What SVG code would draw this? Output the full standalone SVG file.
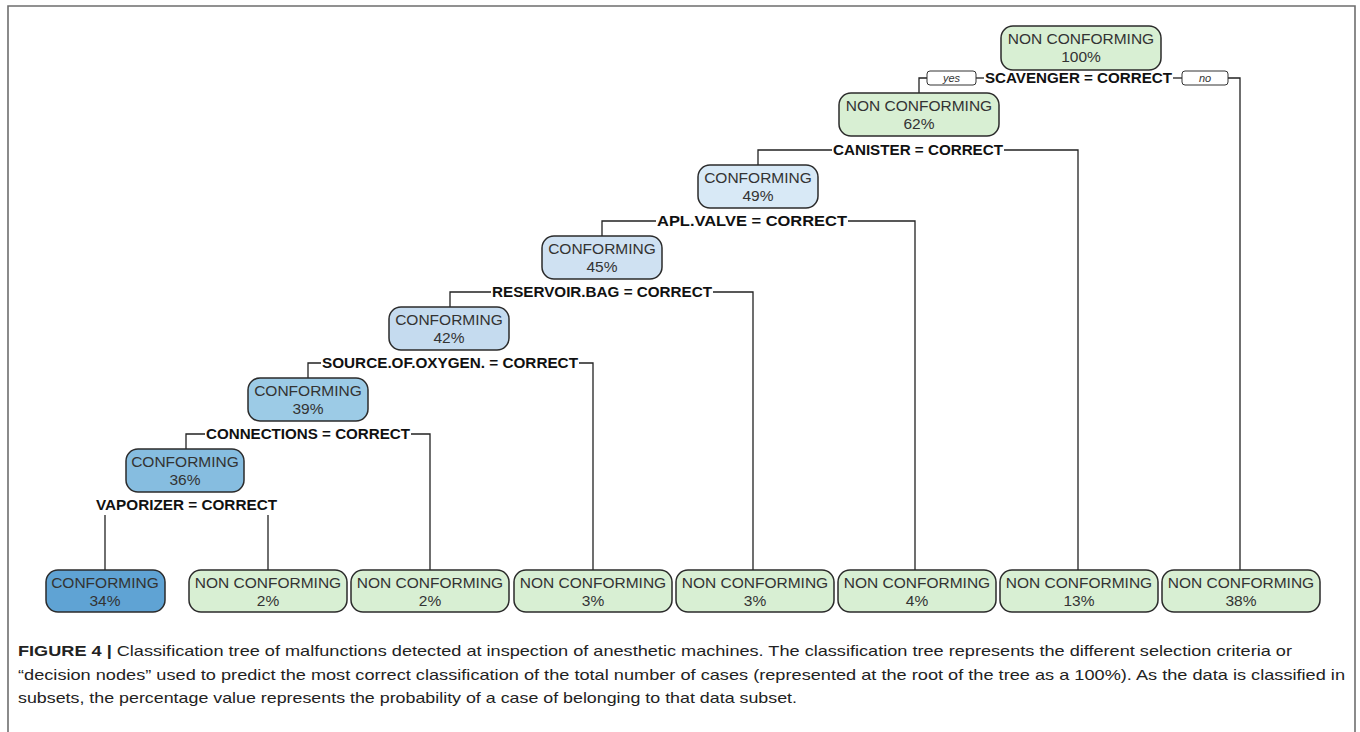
<svg xmlns="http://www.w3.org/2000/svg" width="1360" height="732" viewBox="0 0 1360 732">
<style>
.n{stroke:#2b2b2b;stroke-width:1.5}
.g{fill:#d8efd3}
.t{font-family:"Liberation Sans",Arial,sans-serif;font-size:15.5px;fill:#333;text-anchor:middle}
.s{font-family:"Liberation Sans",Arial,sans-serif;font-size:15px;font-weight:bold;fill:#111;text-anchor:middle}
.yn{font-family:"Liberation Sans",Arial,sans-serif;font-size:11px;font-style:italic;fill:#333;text-anchor:middle}
.c{fill:none;stroke:#222;stroke-width:1.3}
.cap{font-family:"Liberation Sans",Arial,sans-serif;font-size:15px;fill:#222}
</style>
<rect x="0" y="0" width="1360" height="732" fill="#fff"/>
<path d="M8,740 V6 H1355 V740" fill="none" stroke="#6e6e6e" stroke-width="1.6"/>
<g id="connectors" class="c">
<path d="M927,78 H919 V93"/>
<path d="M1228,78 H1240 V570"/>
<path d="M976,78 H984"/>
<path d="M1173,78 H1182"/>
<path d="M832,150 H758 V165"/>
<path d="M1004,150 H1078 V570"/>
<path d="M656,221 H602 V236"/>
<path d="M848,221 H915 V570"/>
<path d="M491,292 H450 V307"/>
<path d="M713,292 H753 V570"/>
<path d="M321,363 H308 V378"/>
<path d="M579,363 H593 V570"/>
<path d="M205,434 H186 V449"/>
<path d="M411,434 H430 V570"/>
<path d="M105,515 V570"/>
<path d="M268,515 V570"/>
</g>
<g id="yes"><rect x="927" y="71" width="49" height="14" rx="3" fill="#fff" stroke="#333" stroke-width="1"/><text class="yn" x="951.5" y="82">yes</text></g>
<g id="no"><rect x="1182" y="71" width="46" height="14" rx="3" fill="#fff" stroke="#333" stroke-width="1"/><text class="yn" x="1205" y="82">no</text></g>
<g id="split-labels">
<text class="s" x="1078.5" y="83" textLength="187" lengthAdjust="spacingAndGlyphs">SCAVENGER = CORRECT</text>
<text class="s" x="918" y="155" textLength="170" lengthAdjust="spacingAndGlyphs">CANISTER = CORRECT</text>
<text class="s" x="752" y="226" textLength="190" lengthAdjust="spacingAndGlyphs">APL.VALVE = CORRECT</text>
<text class="s" x="602" y="297" textLength="220" lengthAdjust="spacingAndGlyphs">RESERVOIR.BAG = CORRECT</text>
<text class="s" x="450" y="368" textLength="256" lengthAdjust="spacingAndGlyphs">SOURCE.OF.OXYGEN. = CORRECT</text>
<text class="s" x="308" y="439" textLength="204" lengthAdjust="spacingAndGlyphs">CONNECTIONS = CORRECT</text>
<text class="s" x="186.5" y="510" textLength="181" lengthAdjust="spacingAndGlyphs">VAPORIZER = CORRECT</text>
</g>
<g id="n100"><rect class="n g" x="1001" y="26" width="160" height="44" rx="12"/><text class="t" x="1081" y="44">NON CONFORMING</text><text class="t" x="1081" y="62">100%</text></g>
<g id="n62"><rect class="n g" x="839" y="93" width="160" height="43" rx="12"/><text class="t" x="919" y="111">NON CONFORMING</text><text class="t" x="919" y="129">62%</text></g>
<g id="n49"><rect class="n" fill="#d8e9f6" x="698" y="165" width="120" height="43" rx="12"/><text class="t" x="758" y="183">CONFORMING</text><text class="t" x="758" y="201">49%</text></g>
<g id="n45"><rect class="n" fill="#cfe1f2" x="542" y="236" width="120" height="43" rx="12"/><text class="t" x="602" y="254">CONFORMING</text><text class="t" x="602" y="272">45%</text></g>
<g id="n42"><rect class="n" fill="#c5dbef" x="389" y="307" width="120" height="43" rx="12"/><text class="t" x="449" y="325">CONFORMING</text><text class="t" x="449" y="343">42%</text></g>
<g id="n39"><rect class="n" fill="#9ccbe6" x="248" y="378" width="120" height="43" rx="12"/><text class="t" x="308" y="396">CONFORMING</text><text class="t" x="308" y="414">39%</text></g>
<g id="n36"><rect class="n" fill="#86bde0" x="126" y="449" width="118" height="43" rx="12"/><text class="t" x="185" y="467">CONFORMING</text><text class="t" x="185" y="485">36%</text></g>
<g id="l34"><rect class="n" fill="#5fa3d4" x="46" y="570" width="119" height="42" rx="12"/><text class="t" x="105" y="588">CONFORMING</text><text class="t" x="105" y="606">34%</text></g>
<g id="l2a"><rect class="n g" x="189" y="570" width="158" height="42" rx="12"/><text class="t" x="268" y="588">NON CONFORMING</text><text class="t" x="268" y="606">2%</text></g>
<g id="l2b"><rect class="n g" x="351" y="570" width="158" height="42" rx="12"/><text class="t" x="430" y="588">NON CONFORMING</text><text class="t" x="430" y="606">2%</text></g>
<g id="l3a"><rect class="n g" x="514" y="570" width="158" height="42" rx="12"/><text class="t" x="593" y="588">NON CONFORMING</text><text class="t" x="593" y="606">3%</text></g>
<g id="l3b"><rect class="n g" x="676" y="570" width="158" height="42" rx="12"/><text class="t" x="755" y="588">NON CONFORMING</text><text class="t" x="755" y="606">3%</text></g>
<g id="l4"><rect class="n g" x="838" y="570" width="158" height="42" rx="12"/><text class="t" x="917" y="588">NON CONFORMING</text><text class="t" x="917" y="606">4%</text></g>
<g id="l13"><rect class="n g" x="1000" y="570" width="158" height="42" rx="12"/><text class="t" x="1079" y="588">NON CONFORMING</text><text class="t" x="1079" y="606">13%</text></g>
<g id="l38"><rect class="n g" x="1162" y="570" width="158" height="42" rx="12"/><text class="t" x="1241" y="588">NON CONFORMING</text><text class="t" x="1241" y="606">38%</text></g>
<g id="caption">
<text class="cap" x="18" y="656" textLength="1274" lengthAdjust="spacingAndGlyphs"><tspan font-weight="bold">FIGURE 4 |</tspan> Classification tree of malfunctions detected at inspection of anesthetic machines. The classification tree represents the different selection criteria or</text>
<text class="cap" x="18" y="680" textLength="1327" lengthAdjust="spacingAndGlyphs">“decision nodes” used to predict the most correct classification of the total number of cases (represented at the root of the tree as a 100%). As the data is classified in</text>
<text class="cap" x="18" y="703" textLength="779" lengthAdjust="spacingAndGlyphs">subsets, the percentage value represents the probability of a case of belonging to that data subset.</text>
</g>
</svg>
